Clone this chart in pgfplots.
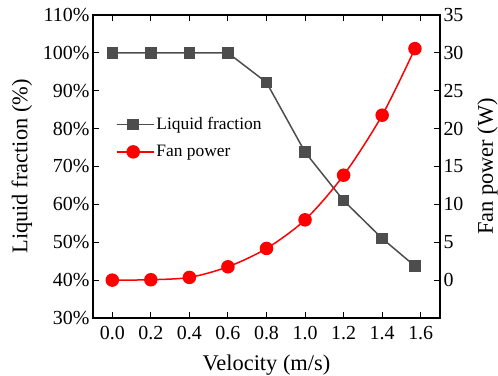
\documentclass[border=0pt]{standalone}
\usepackage{fontspec}
\setmainfont{Liberation Serif}
\usepackage{pgfplots}
\pgfplotsset{compat=1.18}
\definecolor{lfgray}{RGB}{77,77,77}
\pgfplotsset{
  common/.style={
    width=347bp, height=303bp, scale only axis,
    xmin=-0.1, xmax=1.7,
    tick align=inside, major tick length=6bp,
    axis line style={line width=1.3bp},
    every tick/.style={black, line width=1bp},
    tick label style={font=\fontsize{20}{24}\selectfont},
    label style={font=\fontsize{22.5}{27}\selectfont},
    /pgf/number format/assume math mode=true,
  }
}
\begin{document}
\begin{tikzpicture}
\useasboundingbox (-93bp,-58bp) rectangle (405bp,318bp);
\begin{axis}[common,
  ymin=30, ymax=110,
  xtick={0,0.2,0.4,0.6,0.8,1.0,1.2,1.4,1.6},
  ytick={30,40,50,60,70,80,90,100,110},
  ytick pos=left,
  xticklabel={\pgfmathprintnumber[fixed,fixed zerofill,precision=1,assume math mode=true]{\tick}},
  xticklabel shift=5bp,
  yticklabel={\pgfmathprintnumber{\tick}\%},
  xlabel={Velocity (m/s)},
  xlabel shift=8bp,
  ylabel={Liquid fraction (\%)},
  ylabel shift=4bp,
  legend style={at={(rel axis cs:0.057,0.675)}, anchor=north west, draw=none, fill=none,
    font=\fontsize{17.5}{21}\selectfont, row sep=10bp},
  legend cell align=left,
  legend image code/.code={\draw[mark repeat=2,mark phase=2] plot coordinates {(0bp,0bp)(16.5bp,0bp)(33bp,0bp)};
    \path (0bp,0bp) -- (37bp,0bp);},
]
\addplot[lfgray, line width=1.5bp, mark=square*, mark size=5bp] coordinates {
(0,100)(0.2,100)(0.4,100)(0.6,100)(0.8,92.2)(1.0,73.8)(1.2,61.0)(1.4,51.0)(1.57,43.7)};
\addlegendentry{Liquid fraction}
\addlegendimage{red, line width=1.5bp, mark=*, mark size=6bp}
\addlegendentry{Fan power}
\end{axis}
\begin{axis}[common,
  ymin=-5, ymax=35,
  hide x axis,
  axis y line*=right,
  ytick={0,5,10,15,20,25,30,35},
  ylabel={Fan power (W)},
  ylabel shift=7bp,
]
\addplot[red, line width=1.5bp, smooth, mark=*, mark size=6bp] coordinates {
(0,0)(0.2,0.05)(0.4,0.36)(0.6,1.76)(0.8,4.18)(1.0,7.96)(1.2,13.85)(1.4,21.77)(1.57,30.56)};
\end{axis}
\end{tikzpicture}
\end{document}
